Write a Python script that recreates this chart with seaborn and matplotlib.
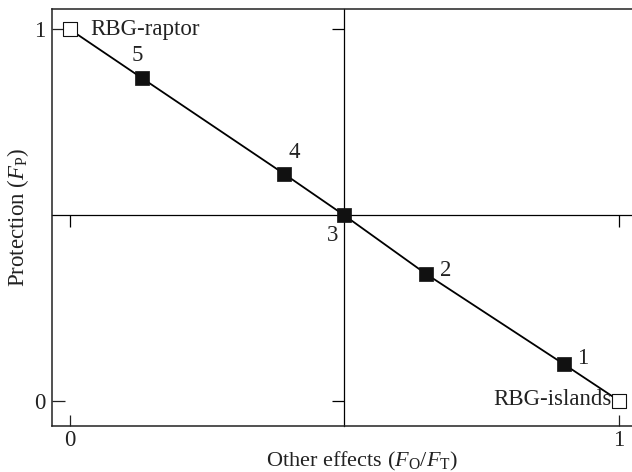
import matplotlib
matplotlib.use("Agg")
import matplotlib.pyplot as plt
import seaborn as sns
import pandas as pd

# ---- data ----
scenario_labels = ["RBG-raptor", "5", "4", "3", "2", "1", "RBG-islands"]
other_effects = [0.0, 0.131, 0.390, 0.499, 0.648, 0.899, 1.0]
protection = [1.0, 0.869, 0.611, 0.500, 0.342, 0.099, 0.0]
is_endpoint = [True, False, False, False, False, False, True]
x_ticks = [0, 1]
y_ticks = [0, 1]
x_label = r"Other effects ($\mathit{F}_{\mathrm{O}}/\mathit{F}_{\mathrm{T}}$)"
y_label = r"Protection ($\mathit{F}_{\mathrm{P}}$)"

df = pd.DataFrame({"x": other_effects, "y": protection,
                   "label": scenario_labels, "end": is_endpoint})

sns.set_theme(style="white")
plt.rcParams["font.family"] = ["Liberation Serif", "DejaVu Serif"]
plt.rcParams["mathtext.fontset"] = "custom"
plt.rcParams["mathtext.rm"] = "Liberation Serif"
plt.rcParams["mathtext.it"] = "Liberation Serif:italic"

fig = plt.figure(figsize=(6.32, 4.72), dpi=100)
pos = [0.0828, 0.0975, 1.0 - 0.0828, 0.981 - 0.0975]
xlim = (-0.032, 1.0236)
ylim = (-0.068, 1.055)
fs = 16.5
spine_col = "#222222"
txt_col = "#222222"

# overlay axes whose spines form the central cross
axc = fig.add_axes(pos, zorder=0)
axc.set_xlim(*xlim)
axc.set_ylim(*ylim)
axc.spines["left"].set_position(("data", 0.5))
axc.spines["bottom"].set_position(("data", 0.5))
axc.spines["top"].set_visible(False)
axc.spines["right"].set_visible(False)
for s in ("left", "bottom"):
    axc.spines[s].set_color("black")
    axc.spines[s].set_linewidth(0.9)
axc.set_xticks(x_ticks)
axc.set_yticks(y_ticks)
axc.tick_params(direction="out", length=8.5, width=0.9, color="black",
                bottom=True, left=True, labelbottom=False, labelleft=False)

# main axes
ax = fig.add_axes(pos, zorder=1)
ax.patch.set_visible(False)
sns.lineplot(data=df, x="x", y="y", ax=ax, color="black", linewidth=1.3,
             sort=False, estimator=None, legend=False)
sns.scatterplot(data=df[~df["end"]], x="x", y="y", ax=ax, marker="s",
                s=100, color="#111111", edgecolor="#111111", linewidth=0.5,
                legend=False, zorder=3)
sns.scatterplot(data=df[df["end"]], x="x", y="y", ax=ax, marker="s",
                s=95, color="white", edgecolor="#111111", linewidth=0.8,
                legend=False, zorder=3)

offsets = {
    "RBG-raptor": (15, 0, "left", "center"),
    "5": (-3, 9, "center", "bottom"),
    "4": (3, 8, "left", "bottom"),
    "3": (-4, -7, "right", "top"),
    "2": (10, 2, "left", "center"),
    "1": (10, 4, "left", "center"),
    "RBG-islands": (-5, 1, "right", "center"),
}
for xv, yv, lab in zip(other_effects, protection, scenario_labels):
    dx, dy, ha, va = offsets[lab]
    ax.annotate(lab, (xv, yv), xytext=(dx, dy), textcoords="offset points",
                ha=ha, va=va, fontsize=fs, color=txt_col)

ax.set_xlim(*xlim)
ax.set_ylim(*ylim)
ax.set_xticks(x_ticks)
ax.set_yticks(y_ticks)
ax.set_xticklabels([str(t) for t in x_ticks])
ax.set_yticklabels([str(t) for t in y_ticks])
ax.tick_params(axis="x", direction="in", length=8, width=0.9, color=spine_col,
               labelsize=fs, labelcolor=txt_col, pad=3, bottom=True)
ax.tick_params(axis="y", direction="in", length=9, width=0.9, color=spine_col,
               labelsize=fs, labelcolor=txt_col, pad=5, left=True)
ax.spines["right"].set_visible(False)
for s in ("left", "bottom", "top"):
    ax.spines[s].set_color(spine_col)
    ax.spines[s].set_linewidth(1.1)
ax.set_xlabel(x_label, fontsize=16, color=txt_col)
ax.xaxis.set_label_coords(0.534, -0.058)
ax.set_ylabel(y_label, fontsize=fs, color=txt_col, labelpad=2)

fig.savefig("out.png", dpi=100)
